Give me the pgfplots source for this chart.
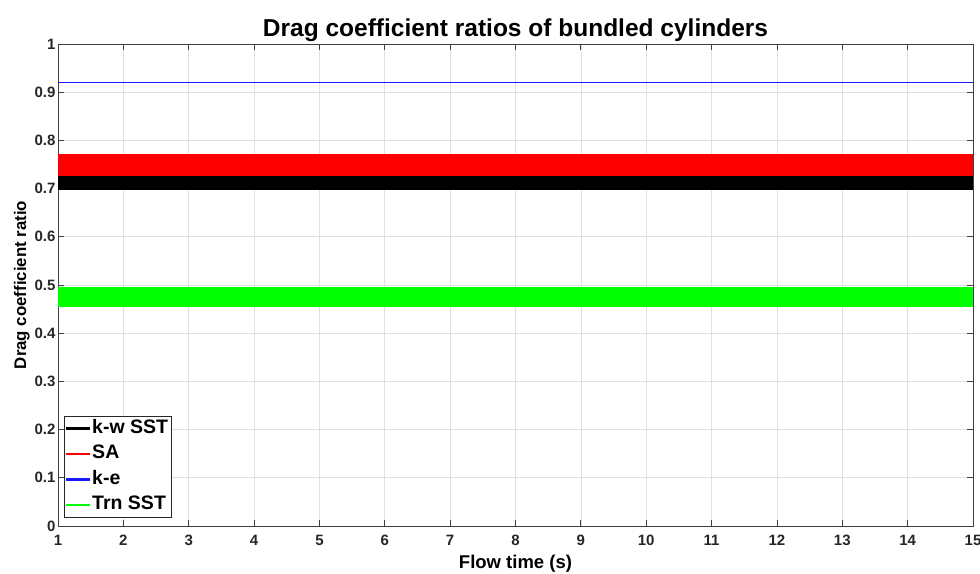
\documentclass[border=0pt]{standalone}
\usepackage{fontspec}
\setmainfont{Liberation Sans}
\usepackage{pgfplots}
\pgfplotsset{compat=1.18}
\definecolor{mred}{rgb}{1,0,0}
\definecolor{mblue}{rgb}{0.1,0.1,1}
\definecolor{mgreen}{rgb}{0,1,0}
\begin{document}
\begin{tikzpicture}
\begin{axis}[
  scale only axis, width=915pt, height=482pt,
  xmin=1, xmax=15, ymin=0, ymax=1,
  xtick={1,2,...,15}, ytick={0,0.1,0.2,0.3,0.4,0.5,0.6,0.7,0.8,0.9,1},
  grid=major, major grid style={black!12, line width=0.7pt},
  tick align=inside, major tick length=6pt,
  axis line style={black!75, line width=0.8pt},
  every tick/.style={black!75, line width=0.8pt},
  /pgf/number format/assume math mode=true,
  ticklabel style={font=\bfseries\fontsize{15}{17}\selectfont, text=black!85},
  xticklabel style={yshift=-5pt, text height=11pt, text depth=0pt, anchor=north},
  yticklabel style={xshift=1pt},
  title={Drag coefficient ratios of bundled cylinders},
  title style={font=\bfseries\fontsize{24.5}{28}\selectfont, yshift=-7pt},
  xlabel={Flow time (s)},
  ylabel={Drag coefficient ratio},
  xlabel style={font=\bfseries\fontsize{18.5}{21}\selectfont, yshift=-3pt},
  ylabel style={font=\bfseries\fontsize{16.8}{19}\selectfont, yshift=-2pt},
  legend cell align=left,
  legend style={at={(0.0065,0.017)}, anchor=south west, draw=black!85, line width=1.2pt,
    font=\bfseries\fontsize{19.5}{21}\selectfont, inner sep=1.5pt, row sep=4pt,
    nodes={inner sep=2pt, text height=13.5pt, text depth=4pt}},
]
\addplot[draw=none, fill=black, forget plot] coordinates {(1,0.697) (15,0.697) (15,0.726) (1,0.726)} -- cycle;
\addplot[draw=none, fill=mred, forget plot] coordinates {(1,0.726) (15,0.726) (15,0.772) (1,0.772)} -- cycle;
\addplot[mblue, line width=1.2pt, forget plot] coordinates {(1,0.920) (15,0.920)};
\addplot[draw=none, fill=mgreen, forget plot] coordinates {(1,0.454) (15,0.454) (15,0.496) (1,0.496)} -- cycle;
\addlegendimage{legend image code/.code={\fill[black] (0pt,-0.7pt) rectangle (23pt,0.7pt);}}
\addlegendentry{k-w SST}
\addlegendimage{legend image code/.code={\fill[mred] (0pt,-0.7pt) rectangle (23pt,0.7pt);}}
\addlegendentry{SA}
\addlegendimage{legend image code/.code={\fill[mblue] (0pt,-0.7pt) rectangle (23pt,0.7pt);}}
\addlegendentry{k-e}
\addlegendimage{legend image code/.code={\fill[mgreen] (0pt,-0.7pt) rectangle (23pt,0.7pt);}}
\addlegendentry{Trn SST}
\end{axis}
\pgfresetboundingbox
\path[use as bounding box] ([shift={(-58pt,-48pt)}]current axis.south west) rectangle ([shift={(7pt,44pt)}]current axis.north east);
\end{tikzpicture}
\end{document}
